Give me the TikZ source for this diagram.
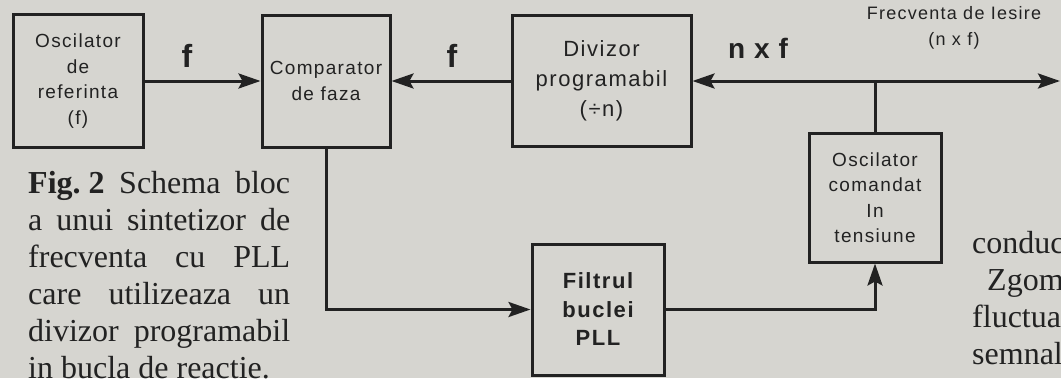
\documentclass[tikz,border=0pt]{standalone}
\usepackage{fontspec}
\setmainfont{Liberation Serif}
\newfontfamily\boxfont[LetterSpace=7]{Liberation Sans}
\newfontfamily\lblfont[LetterSpace=4]{Liberation Sans}
\usetikzlibrary{arrows.meta}
\definecolor{Paper}{RGB}{214,213,208}
\definecolor{Ink}{RGB}{34,34,34}

\begin{document}
\begin{tikzpicture}[x=1pt,y=-1pt,
  blk/.style={rectangle,draw=Ink,line width=3pt,inner sep=0pt,align=center,text=Ink,font=\boxfont\fontsize{19}{25.5}\selectfont},
  arr/.style={-{Stealth[length=22pt,width=15pt,inset=4pt]},line width=3pt,draw=Ink},
  lbl/.style={text=Ink,inner sep=0pt,anchor=base,font=\lblfont\bfseries\fontsize{32}{32}\selectfont}
]
  \useasboundingbox (0,0) rectangle (1061,378);
  \fill[Paper] (0,0) rectangle (1061,378);
  \clip (0,0) rectangle (1061,378);
  % blocks
  \node[blk,minimum width=130pt,minimum height=133pt] (ref) at (78,81) {Oscilator\\de\\referinta\\(f)};
  \node[blk,minimum width=128pt,minimum height=132pt] (comp) at (326,81) {Comparator\\de faza};
  \node[blk,minimum width=179pt,minimum height=131pt,font=\boxfont\fontsize{22}{30}\selectfont] (div) at (601.5,81) {Divizor\\programabil\\(÷n)};
  \node[blk,minimum width=132pt,minimum height=129pt] (vco) at (875,197.5) {Oscilator\\comandat\\In\\tensiune};
  \node[blk,minimum width=132pt,minimum height=131pt,font=\boxfont\bfseries\fontsize{22}{28.5}\selectfont] (filt) at (598,309.5) {Filtrul\\buclei\\PLL};
  \coordinate (out) at (1060,81);
  \coordinate (jn) at (vco.north |- div.east);
  % connectors
  \draw[arr] (ref) -- (comp);
  \draw[arr] (div) -- (comp);
  \draw[arr,{Stealth[length=22pt,width=15pt,inset=4pt]}-{Stealth[length=22pt,width=15pt,inset=4pt]}] (div) -- (out);
  \draw[line width=3pt,draw=Ink] (vco.north) -- (jn);
  \draw[arr] (comp.south) |- (filt.west);
  \draw[arr] (filt.east) -| (vco.south);
  % labels
  \node[lbl] (f1) at (187,67) {f};
  \node[lbl] (f2) at (452,67) {f};
  \node[lbl,font=\lblfont\bfseries\fontsize{28}{28}\selectfont] (nf) at (758,58) {n x f};
  \node[lbl,font=\boxfont\fontsize{18}{26}\selectfont,align=center,anchor=north] (fout) at (954,6) {Frecventa de Iesire\\(n x f)};
  % text of the page
  \node[anchor=north west,inner sep=0pt,align=left,text=Ink,font=\fontsize{32}{37}\selectfont] (cap) at (28,171)
    {\makebox[262pt][s]{\textbf{Fig.\kern8pt2} Schema bloc}\\
     \makebox[262pt][s]{a unui sintetizor de}\\
     \makebox[262pt][s]{frecventa cu PLL}\\
     \makebox[262pt][s]{care utilizeaza un}\\
     \makebox[262pt][s]{divizor programabil}\\
     in bucla de reactie.};
  \node[anchor=north west,inner sep=0pt,align=left,text=Ink,font=\fontsize{32}{37}\selectfont] (col) at (972,231)
    {conduc\\\hspace*{15pt}Zgom\\fluctua\\semnal};
\end{tikzpicture}
\end{document}
